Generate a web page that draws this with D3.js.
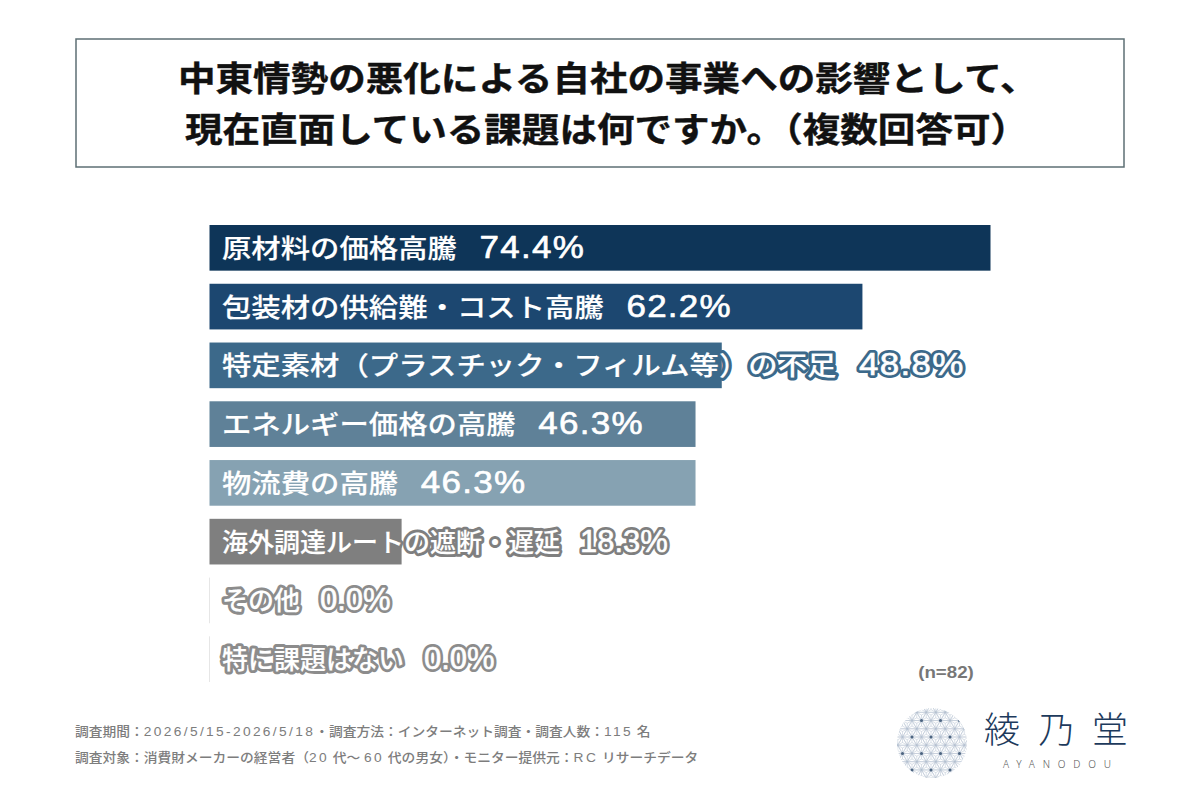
<!DOCTYPE html>
<html lang="ja">
<head>
<meta charset="utf-8">
<script src="https://cdn.jsdelivr.net/npm/d3@7/dist/d3.min.js"></script>
<style>
  html, body { margin: 0; padding: 0; background: #fff; }
  svg { display: block; }
  text { font-family: "Liberation Sans", "Noto Sans CJK JP", sans-serif; }
</style>
</head>
<body>
<svg id="chart" width="1200" height="800"></svg>
<script>
// Survey results
const categories = [
  "原材料の価格高騰",
  "包装材の供給難・コスト高騰",
  "特定素材（プラスチック・フィルム等）の不足",
  "エネルギー価格の高騰",
  "物流費の高騰",
  "海外調達ルートの遮断・遅延",
  "その他",
  "特に課題はない"
];
const shares = [74.4, 62.2, 48.8, 46.3, 46.3, 18.3, 0.0, 0.0];
const barColors = ["#0e3558", "#1c4770", "#3c698a", "#5f8198", "#86a2b2", "#7f7f7f", "#8c8c8c", "#8c8c8c"];
const titleLines = [
  "中東情勢の悪化による自社の事業への影響として、",
  "現在直面している課題は何ですか。（複数回答可）"
];
const footnotes = [
  "調査期間：2026/5/15-2026/5/18・調査方法：インターネット調査・調査人数：115 名",
  "調査対象：消費財メーカーの経営者（20 代～ 60 代の男女）・モニター提供元：RC リサーチデータ"
];
const sampleNote = "(n=82)";

const svg = d3.select("#chart");

// Title box
svg.append("rect")
  .attr("x", 76).attr("y", 39).attr("width", 1048).attr("height", 128)
  .attr("fill", "#fff").attr("stroke", "#5d6f74").attr("stroke-width", 1.5);

svg.selectAll("text.title").data(titleLines).join("text")
  .attr("class", "title")
  .attr("transform", (d, i) => `translate(${178 + i * 7},${91 + i * 51}) scale(1.105,1)`)
  .attr("font-size", 34).attr("font-weight", 700).attr("fill", "#111")
  .attr("stroke", "#111").attr("stroke-width", 0.4)
  .text(d => d);

// Horizontal bars
const x = d3.scaleLinear().domain([0, 74.4]).range([209.5, 990.5]);
const y = d3.scaleBand().domain(categories).range([225, 682]).paddingInner(0.223).paddingOuter(0);

const rows = categories.map((name, i) => ({ name, share: shares[i], color: barColors[i] }));

svg.selectAll("rect.bar").data(rows).join("rect")
  .attr("class", "bar")
  .attr("x", x(0))
  .attr("y", d => y(d.name))
  .attr("width", d => x(d.share) - x(0))
  .attr("height", y.bandwidth())
  .attr("fill", d => d.color);

// Zero-length bars still show a hairline at the baseline
svg.selectAll("line.zero").data(rows.filter(d => d.share === 0)).join("line")
  .attr("class", "zero")
  .attr("x1", x(0)).attr("x2", x(0))
  .attr("y1", d => y(d.name)).attr("y2", d => y(d.name) + y.bandwidth())
  .attr("stroke", "#e6e6e6").attr("stroke-width", 1);

// Bar labels: white lettering outlined in the colour of the bar.
// The lower-ranked rows use narrower lettering.
const isCompact = d => d.share < 20;
const labels = svg.selectAll("g.label").data(rows).join("g")
  .attr("class", "label")
  .attr("transform", d => `translate(222,${y(d.name) + y.bandwidth() / 2 + 10}) scale(${isCompact(d) ? 1 : 1.13},1)`);

// Two passes: the outline underneath, a thin white stroke on the figures for weight
[
  { stroke: d => d.color, name: 6, figure: 6 },
  { stroke: () => "#fff", name: 0.15, figure: 0.6 }
].forEach(pass => {
  const t = labels.append("text")
    .attr("fill", "#fff")
    .attr("stroke", pass.stroke)
    .attr("stroke-linejoin", "round")
    .attr("font-weight", 500);
  t.append("tspan").attr("font-size", 26).attr("stroke-width", pass.name).text(d => d.name);
  t.append("tspan").attr("font-size", 31).attr("dx", 20).attr("stroke-width", pass.figure)
    .attr("letter-spacing", d => isCompact(d) ? 0 : 1.1)
    .text(d => d.share.toFixed(1) + "%");
});

// Sample size
svg.append("text")
  .attr("transform", "translate(946,678) scale(1.17,1)")
  .attr("text-anchor", "middle")
  .attr("font-size", 16).attr("font-weight", 700).attr("fill", "#777")
  .text(sampleNote);

// Survey notes: Latin runs are tracked wider than the kana and kanji around them
const notes = svg.selectAll("text.note").data(footnotes).join("text")
  .attr("class", "note")
  .attr("transform", (d, i) => `translate(75,${736 + i * 25.5}) scale(1.06,1)`)
  .attr("font-size", 13).attr("font-weight", 500).attr("fill", "#7d7d7d");
notes.selectAll("tspan").data(d => d.match(/[0-9A-Za-z\/\-]+|[^0-9A-Za-z\/\-]+/g)).join("tspan")
  .attr("letter-spacing", d => /^[0-9A-Za-z\/\-]/.test(d) ? 2.2 : 0)
  .text(d => d);

// Brand mark: fine hemp-leaf lattice clipped to a disc, knots on every other vertex
const mark = { cx: 932, cy: 743, r: 35, originX: 931, originY: 737, side: 9.5 };
svg.append("clipPath").attr("id", "disc").append("circle")
  .attr("cx", mark.cx).attr("cy", mark.cy).attr("r", mark.r);

const lattice = svg.append("g").attr("clip-path", "url(#disc)");
const rowStep = mark.side * Math.sqrt(3) / 2;
const segments = [];
const knots = [];
for (let row = -6; row <= 6; row++) {
  for (let col = -6; col <= 6; col++) {
    const odd = row & 1;
    const vx = mark.originX + (col + (odd ? 0.5 : 0)) * mark.side;
    const vy = mark.originY + row * rowStep;
    if (!odd && !(col & 1) && !(row & 2)) knots.push([vx, vy]);
    if (!odd && (col & 1) && (row & 2)) knots.push([vx, vy]);
    const a = [vx, vy];
    const b = [vx + mark.side, vy];
    const c = [vx + mark.side / 2, vy + rowStep];
    const e = [vx - mark.side / 2, vy + rowStep];
    [[a, b, c], [a, c, e]].forEach(tri => {
      const g = [d3.mean(tri, p => p[0]), d3.mean(tri, p => p[1])];
      tri.forEach((p, k) => {
        segments.push([p, tri[(k + 1) % 3]]);
        segments.push([p, g]);
      });
    });
  }
}
lattice.selectAll("line").data(segments).join("line")
  .attr("x1", d => d[0][0]).attr("y1", d => d[0][1])
  .attr("x2", d => d[1][0]).attr("y2", d => d[1][1])
  .attr("stroke", "#b4c0d0").attr("stroke-width", 0.5);
lattice.selectAll("circle").data(knots).join("circle")
  .attr("cx", d => d[0]).attr("cy", d => d[1]).attr("r", 1.5)
  .attr("fill", "#4c6480");

// Wordmark
svg.append("text")
  .attr("x", 984).attr("y", 743)
  .attr("font-size", 36).attr("font-weight", 300).attr("letter-spacing", 18)
  .attr("fill", "#1d3a5c")
  .text("綾乃堂");
svg.append("text")
  .attr("x", 1003).attr("y", 768)
  .attr("font-size", 10).attr("letter-spacing", 7.8).attr("fill", "#555")
  .style("font-family", "'Noto Sans', sans-serif").attr("font-weight", 300)
  .text("AYANODOU");
</script>
</body>
</html>
